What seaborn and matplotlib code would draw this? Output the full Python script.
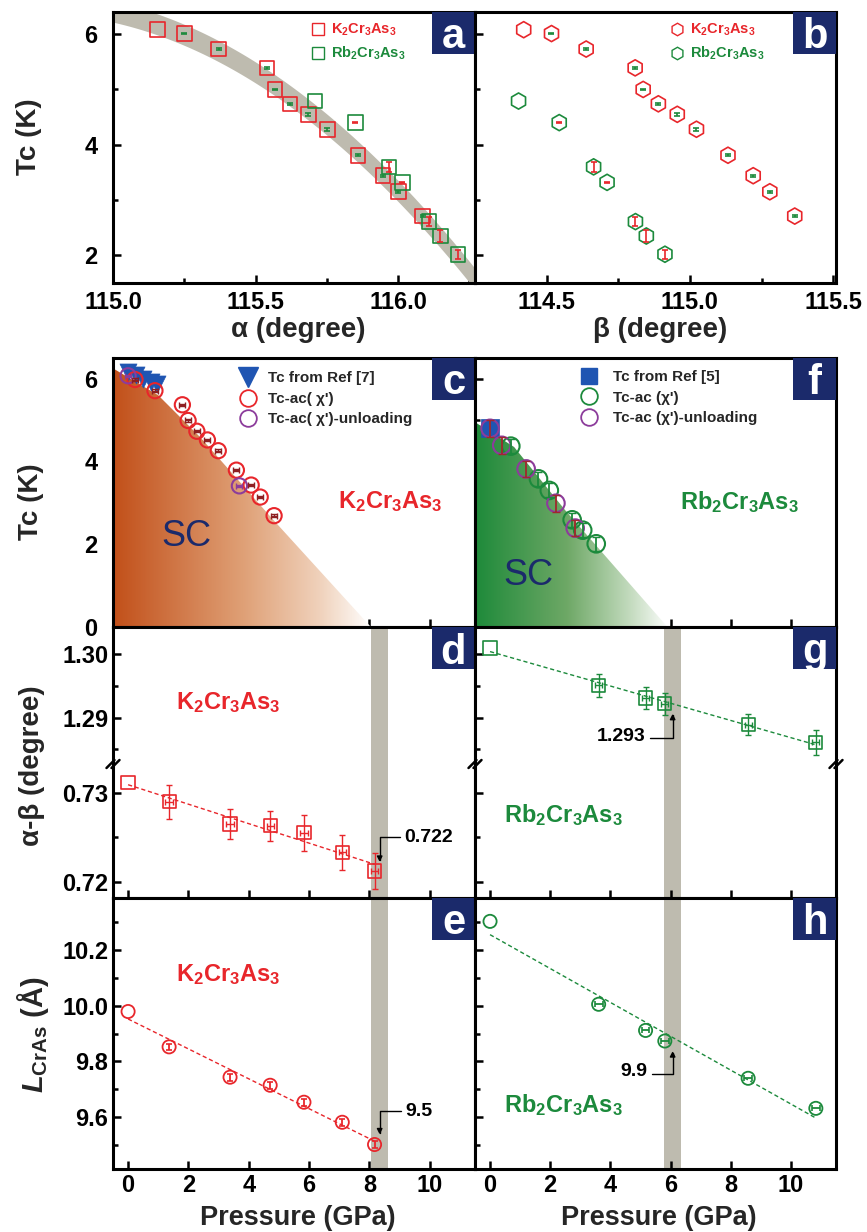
import numpy as np
import matplotlib
matplotlib.use("Agg")
import matplotlib.pyplot as plt
import seaborn as sns
from matplotlib.patches import Polygon, Rectangle
from matplotlib.lines import Line2D
from matplotlib.colors import LinearSegmentedColormap
from matplotlib.ticker import MultipleLocator, FormatStrFormatter

# ---------------- data ----------------
# panels a / b : Tc versus bond angles alpha / beta
k_alpha = [115.156, 115.250, 115.371, 115.540, 115.568, 115.621, 115.685, 115.752, 115.859, 115.947, 116.001, 116.086]
k_beta = [114.420, 114.517, 114.638, 114.809, 114.837, 114.890, 114.956, 115.023, 115.133, 115.221, 115.279, 115.366]
k_tc = [6.08, 6.01, 5.73, 5.39, 5.00, 4.74, 4.55, 4.28, 3.81, 3.44, 3.15, 2.71]
k_tc_err = [0.0, 0.015, 0.015, 0.015, 0.015, 0.015, 0.03, 0.03, 0.015, 0.015, 0.015, 0.015]
rb_alpha = [115.709, 115.850, 115.968, 116.015, 116.109, 116.148, 116.211]
rb_beta = [114.402, 114.544, 114.664, 114.711, 114.810, 114.848, 114.913]
rb_tc = [4.79, 4.40, 3.60, 3.32, 2.61, 2.35, 2.02]
rb_tc_err = [0.0, 0.015, 0.09, 0.015, 0.08, 0.10, 0.08]
band_alpha = [115.085, 115.156, 115.371, 115.50, 115.709, 115.859, 116.045, 116.25]
band_tc = [6.40, 6.16, 5.59, 5.14, 4.62, 3.99, 3.00, 1.60]

# panel c : K2Cr3As3 Tc versus pressure
k_ref7_p = [0.0, 0.25, 0.50, 0.75, 0.95]
k_ref7_tc = [6.15, 6.08, 6.00, 5.93, 5.86]
k_load_p = [0.23, 0.89, 1.80, 1.99, 2.28, 2.63, 2.99, 3.59, 4.08, 4.38, 4.84]
k_load_tc = [5.98, 5.71, 5.37, 4.99, 4.73, 4.52, 4.26, 3.79, 3.43, 3.14, 2.69]
k_unload_p = [0.0, 3.69]
k_unload_tc = [6.07, 3.41]
k_sc_p = [-0.5, 1.0, 2.4, 4.8, 8.05]
k_sc_tc = [6.25, 5.60, 4.58, 2.60, 0.0]

# panel f : Rb2Cr3As3 Tc versus pressure
rb_ref5_p = [0.0]
rb_ref5_tc = [4.80]
rb_load_p = [0.69, 1.61, 1.97, 2.73, 3.08, 3.53]
rb_load_tc = [4.37, 3.58, 3.30, 2.59, 2.34, 2.01]
rb_unload_p = [0.0, 0.39, 1.20, 2.19, 2.83]
rb_unload_tc = [4.80, 4.39, 3.82, 2.99, 2.39]
rb_sc_p = [-0.5, 0.8, 2.5, 5.9]
rb_sc_tc = [4.95, 4.35, 2.82, 0.0]

# panels d, e, g, h : structure versus pressure
k_p = [0.0, 1.36, 3.38, 4.71, 5.83, 7.10, 8.17]
k_ab = [0.7312, 0.7290, 0.7265, 0.7263, 0.7255, 0.7233, 0.7212]
k_ab_err = [0.0, 0.0019, 0.0017, 0.0017, 0.0020, 0.0020, 0.0020]
k_lcras = [9.979, 9.852, 9.743, 9.714, 9.653, 9.581, 9.501]
rb_p = [0.0, 3.61, 5.17, 5.81, 8.58, 10.83]
rb_ab = [1.3010, 1.2951, 1.2931, 1.2922, 1.2889, 1.2861]
rb_ab_err = [0.0, 0.0018, 0.0017, 0.0017, 0.0017, 0.0020]
rb_lcras = [10.303, 10.005, 9.911, 9.873, 9.739, 9.631]
k_band = [8.05, 8.63]
rb_band = [5.77, 6.35]

pressure_ticks = [0, 2, 4, 6, 8, 10]

# ---------------- style ----------------
sns.set_style("ticks")
plt.rcParams.update({
    "font.family": ["Liberation Sans", "DejaVu Sans"],
    "font.weight": "bold",
    "axes.labelweight": "bold",
    "mathtext.fontset": "custom",
    "mathtext.rm": "Liberation Sans:bold",
    "mathtext.it": "Liberation Sans:italic:bold",
    "mathtext.bf": "Liberation Sans:bold",
    "mathtext.default": "rm",
})

RED = "#E8262B"
GREEN = "#1C8A3C"
PURPLE = "#8C3C9B"
BLUE = "#1F55B2"
NAVY = "#1B2A6B"
BANDC = "#BEBBAF"
DKRED = "#8E1F22"

W, H = 867, 1232
fig = plt.figure(figsize=(W / 100, H / 100), dpi=100)


def axes_px(x0, x1, y0, y1):
    return fig.add_axes([x0 / W, 1 - y1 / H, (x1 - x0) / W, (y1 - y0) / H])


ax_a = axes_px(113, 475, 12, 283)
ax_b = axes_px(475, 836, 12, 283)
ax_c = axes_px(113, 475, 358, 627)
ax_f = axes_px(475, 836, 358, 627)
ax_dt = axes_px(113, 475, 627, 764)
ax_db = axes_px(113, 475, 764, 898)
ax_gt = axes_px(475, 836, 627, 764)
ax_gb = axes_px(475, 836, 764, 898)
ax_e = axes_px(113, 475, 898, 1169)
ax_h = axes_px(475, 836, 898, 1169)


def style(ax, labelleft=True, labelbottom=True, ypad=10, xpad=6):
    ax.tick_params(which="both", direction="in", top=False, right=False,
                   width=1.8, labelsize=17, colors="black")
    ax.tick_params(which="major", length=6)
    ax.tick_params(which="minor", length=3.5)
    ax.tick_params(axis="y", pad=ypad, labelleft=labelleft)
    ax.tick_params(axis="x", pad=xpad, labelbottom=labelbottom)
    for s in ax.spines.values():
        s.set_linewidth(2.2)
        s.set_color("black")
        s.set_visible(True)
    ax.set_xlabel("")
    ax.set_ylabel("")


def letter(ax, ch):
    b = ax.get_position()
    wf = 43 / (b.width * W)
    hf = 42 / (b.height * H)
    ax.add_patch(Rectangle((1 - wf, 1 - hf), wf, hf, transform=ax.transAxes,
                           facecolor=NAVY, edgecolor="none", zorder=6, clip_on=False))
    ax.text(1 - wf / 2, 1 - hf / 2, ch, transform=ax.transAxes, ha="center",
            va="center_baseline", color="white", fontsize=30, fontweight="bold", zorder=7)


def open_scatter(ax, x, y, marker, color, s, lw=1.2, z=4):
    sns.scatterplot(x=x, y=y, ax=ax, marker=marker, s=s, facecolor="none",
                    edgecolor=color, linewidth=lw, zorder=z, legend=False)


def sc_region(ax, p, t, stops, xend):
    verts = [(p[0], 0.0)] + list(zip(p, t))
    poly = Polygon(verts, closed=True, facecolor="none", edgecolor="none",
                   transform=ax.transData)
    ax.add_patch(poly)
    cmap = LinearSegmentedColormap.from_list("sc", stops)
    grad = np.linspace(0, 1, 400)[None, :]
    im = ax.imshow(grad, extent=[p[0], xend, 0, 7], cmap=cmap, aspect="auto",
                   origin="lower", zorder=1, interpolation="bilinear")
    im.set_clip_path(poly)


def formula(ax, x, y, txt, color, size=17):
    ax.text(x, y, txt, transform=ax.transAxes, color=color, fontsize=size,
            ha="center", va="center", fontweight="bold", zorder=5)


# ---------------- panel a ----------------
coef = np.polyfit(band_alpha, band_tc, 2)
ag = np.linspace(114.95, 116.35, 300)
bc = np.polyval(coef, ag)
ax_a.fill_between(ag, bc - 0.19, bc + 0.19, color=BANDC, lw=0, zorder=1)
open_scatter(ax_a, k_alpha, k_tc, "s", RED, 110)
open_scatter(ax_a, rb_alpha, rb_tc, "s", GREEN, 110)
ax_a.errorbar(k_alpha[1:], k_tc[1:], yerr=k_tc_err[1:], fmt="none", ecolor=GREEN,
              elinewidth=1.2, capsize=2.5, capthick=1.2, zorder=5)
ax_a.errorbar(rb_alpha[1:], rb_tc[1:], yerr=rb_tc_err[1:], fmt="none", ecolor=RED,
              elinewidth=1.2, capsize=2.5, capthick=1.2, zorder=5)
ax_a.set_xlim(115.0, 116.27)
ax_a.set_ylim(1.5, 6.4)
ax_a.set_xticks([115.0, 115.5, 116.0])
ax_a.xaxis.set_minor_locator(MultipleLocator(0.25))
ax_a.set_yticks([2, 4, 6])
ax_a.yaxis.set_minor_locator(MultipleLocator(1))
ax_a.xaxis.set_major_formatter(FormatStrFormatter("%.1f"))
style(ax_a, ypad=11)
ha_ = [Line2D([], [], marker="s", ls="none", mfc="none", mec=RED, ms=8, mew=1),
       Line2D([], [], marker="s", ls="none", mfc="none", mec=GREEN, ms=8, mew=1)]
leg = ax_a.legend(ha_, ["K$_2$Cr$_3$As$_3$", "Rb$_2$Cr$_3$As$_3$"], loc="upper left",
                  bbox_to_anchor=(0.545, 0.963), frameon=False, fontsize=10.5,
                  handlelength=1.0, handletextpad=0.4, labelspacing=0.45,
                  borderaxespad=0, borderpad=0)
for t, c in zip(leg.get_texts(), [RED, GREEN]):
    t.set_color(c)
letter(ax_a, "a")

# ---------------- panel b ----------------
open_scatter(ax_b, k_beta, k_tc, "h", RED, 135)
open_scatter(ax_b, rb_beta, rb_tc, "h", GREEN, 135)
ax_b.errorbar(k_beta[1:], k_tc[1:], yerr=k_tc_err[1:], fmt="none", ecolor=GREEN,
              elinewidth=1.2, capsize=2.5, capthick=1.2, zorder=5)
ax_b.errorbar(rb_beta[1:], rb_tc[1:], yerr=rb_tc_err[1:], fmt="none", ecolor=RED,
              elinewidth=1.2, capsize=2.5, capthick=1.2, zorder=5)
ax_b.set_xlim(114.25, 115.51)
ax_b.set_ylim(1.5, 6.4)
ax_b.set_xticks([114.5, 115.0, 115.5])
ax_b.xaxis.set_minor_locator(MultipleLocator(0.25))
ax_b.set_yticks([2, 4, 6])
ax_b.yaxis.set_minor_locator(MultipleLocator(1))
ax_b.xaxis.set_major_formatter(FormatStrFormatter("%.1f"))
style(ax_b, labelleft=False)
hb_ = [Line2D([], [], marker="h", ls="none", mfc="none", mec=RED, ms=9, mew=1),
       Line2D([], [], marker="h", ls="none", mfc="none", mec=GREEN, ms=9, mew=1)]
leg = ax_b.legend(hb_, ["K$_2$Cr$_3$As$_3$", "Rb$_2$Cr$_3$As$_3$"], loc="upper left",
                  bbox_to_anchor=(0.54, 0.963), frameon=False, fontsize=10.5,
                  handlelength=1.0, handletextpad=0.4, labelspacing=0.45,
                  borderaxespad=0, borderpad=0)
for t, c in zip(leg.get_texts(), [RED, GREEN]):
    t.set_color(c)
letter(ax_b, "b")

# ---------------- panel c ----------------
sc_region(ax_c, k_sc_p, k_sc_tc,
          [(0.0, "#C2501A"), (0.5, "#DFA076"), (0.8, "#F0D2BC"), (1.0, "#FFFFFF")], 8.1)
sns.scatterplot(x=k_ref7_p, y=k_ref7_tc, ax=ax_c, marker="v", s=150, color=BLUE,
                edgecolor=BLUE, linewidth=0.5, zorder=3, legend=False)
open_scatter(ax_c, k_load_p, k_load_tc, "o", RED, 120, lw=1.5)
ax_c.errorbar(k_load_p, k_load_tc, xerr=0.1, yerr=0.03, fmt="none", ecolor=DKRED,
              elinewidth=1.0, capsize=2, capthick=1.0, zorder=5)
open_scatter(ax_c, k_unload_p, k_unload_tc, "o", PURPLE, 120, lw=1.5)
ax_c.errorbar(k_unload_p, k_unload_tc, xerr=0.1, yerr=0.03, fmt="none", ecolor=PURPLE,
              elinewidth=1.0, capsize=2, capthick=1.0, zorder=5)
ax_c.set_xlim(-0.5, 11.5)
ax_c.set_ylim(0, 6.5)
ax_c.set_xticks(pressure_ticks)
ax_c.set_yticks([0, 2, 4, 6])
ax_c.yaxis.set_minor_locator(MultipleLocator(1))
style(ax_c, labelbottom=False, ypad=11)
hc = [Line2D([], [], marker="v", ls="none", color=BLUE, ms=14),
      Line2D([], [], marker="o", ls="none", mfc="none", mec=RED, ms=12, mew=1.3),
      Line2D([], [], marker="o", ls="none", mfc="none", mec=PURPLE, ms=12, mew=1.3)]
ax_c.legend(hc, ["Tc from Ref [7]", "Tc-ac( χ')", "Tc-ac( χ')-unloading"],
            loc="upper left", bbox_to_anchor=(0.34, 0.95), frameon=False, fontsize=11,
            handlelength=1.5, handletextpad=0.6, labelspacing=0.42,
            borderaxespad=0, borderpad=0)
ax_c.text(0.204, 0.335, "SC", transform=ax_c.transAxes, fontsize=26, fontweight="normal",
          color=NAVY, ha="center", va="center", zorder=5)
formula(ax_c, 0.765, 0.465, "K$_2$Cr$_3$As$_3$", RED)
letter(ax_c, "c")

# ---------------- panel f ----------------
sc_region(ax_f, rb_sc_p, rb_sc_tc,
          [(0.0, "#1E8A3A"), (0.47, "#6EA866"), (0.8, "#C5DCC0"), (1.0, "#FFFFFF")], 6.0)
sns.scatterplot(x=rb_ref5_p, y=rb_ref5_tc, ax=ax_f, marker="s", s=150, color=BLUE,
                edgecolor=BLUE, linewidth=0.5, zorder=3, legend=False)
open_scatter(ax_f, rb_load_p, rb_load_tc, "o", GREEN, 160, lw=1.5)
ax_f.errorbar(rb_load_p, rb_load_tc, yerr=0.17, fmt="none", ecolor=GREEN,
              elinewidth=1.3, capsize=3, capthick=1.0, zorder=5)
open_scatter(ax_f, rb_unload_p, rb_unload_tc, "o", PURPLE, 160, lw=1.5)
ax_f.errorbar(rb_unload_p, rb_unload_tc, yerr=0.2, fmt="none", ecolor="#A0282D",
              elinewidth=1.3, capsize=3, capthick=1.0, zorder=5)
ax_f.set_xlim(-0.5, 11.5)
ax_f.set_ylim(0, 6.5)
ax_f.set_xticks(pressure_ticks)
ax_f.set_yticks([0, 2, 4, 6])
ax_f.yaxis.set_minor_locator(MultipleLocator(1))
style(ax_f, labelleft=False, labelbottom=False)
hf_ = [Line2D([], [], marker="s", ls="none", color=BLUE, ms=11),
       Line2D([], [], marker="o", ls="none", mfc="none", mec=GREEN, ms=12, mew=1.3),
       Line2D([], [], marker="o", ls="none", mfc="none", mec=PURPLE, ms=12, mew=1.3)]
ax_f.legend(hf_, ["Tc from Ref [5]", "Tc-ac (χ')", "Tc-ac (χ')-unloading"],
            loc="upper left", bbox_to_anchor=(0.284, 0.955), frameon=False, fontsize=11,
            handlelength=1.5, handletextpad=0.8, labelspacing=0.42,
            borderaxespad=0, borderpad=0)
ax_f.text(0.147, 0.193, "SC", transform=ax_f.transAxes, fontsize=26, fontweight="normal",
          color=NAVY, ha="center", va="center", zorder=5)
formula(ax_f, 0.734, 0.465, "Rb$_2$Cr$_3$As$_3$", GREEN)
letter(ax_f, "f")

# ---------------- panels d / g (broken axis) ----------------
for ax, band in [(ax_dt, k_band), (ax_db, k_band), (ax_gt, rb_band), (ax_gb, rb_band)]:
    ax.axvspan(band[0], band[1], color=BANDC, lw=0, zorder=0)
    ax.set_xlim(-0.5, 11.5)
    ax.set_xticks(pressure_ticks)

for ax in (ax_dt, ax_gt):
    ax.set_ylim(1.2827, 1.3043)
    ax.set_yticks([1.29, 1.30])
    ax.yaxis.set_minor_locator(MultipleLocator(0.005))
    ax.yaxis.set_major_formatter(FormatStrFormatter("%.2f"))
for ax in (ax_db, ax_gb):
    ax.set_ylim(0.71816, 0.73327)
    ax.set_yticks([0.72, 0.73])
    ax.yaxis.set_minor_locator(MultipleLocator(0.005))
    ax.yaxis.set_major_formatter(FormatStrFormatter("%.2f"))

# K2Cr3As3 alpha-beta (lower part)
sns.regplot(x=k_p, y=k_ab, ax=ax_db, scatter=False, ci=None, color=RED,
            line_kws={"ls": "--", "lw": 1.0, "dashes": (3, 2)})
open_scatter(ax_db, k_p, k_ab, "s", RED, 90, lw=1.2)
ax_db.errorbar(k_p[1:], k_ab[1:], xerr=0.12, yerr=k_ab_err[1:], fmt="none", ecolor=RED,
               elinewidth=1.0, capsize=2.5, capthick=1.0, zorder=5)
# Rb2Cr3As3 alpha-beta (upper part)
sns.regplot(x=rb_p, y=rb_ab, ax=ax_gt, scatter=False, ci=None, color=GREEN,
            line_kws={"ls": "--", "lw": 1.0, "dashes": (3, 2)})
open_scatter(ax_gt, rb_p, rb_ab, "s", GREEN, 90, lw=1.2)
ax_gt.errorbar(rb_p[1:], rb_ab[1:], xerr=0.12, yerr=rb_ab_err[1:], fmt="none", ecolor=GREEN,
               elinewidth=1.0, capsize=2.5, capthick=1.0, zorder=5)

style(ax_dt, labelbottom=False, ypad=3.5)
style(ax_db, labelbottom=False, ypad=3.5)
style(ax_gt, labelleft=False, labelbottom=False)
style(ax_gb, labelleft=False, labelbottom=False)
for ax in (ax_dt, ax_gt):
    ax.spines["bottom"].set_visible(False)
    ax.tick_params(axis="x", which="both", bottom=False)
for ax in (ax_db, ax_gb):
    ax.spines["top"].set_visible(False)

formula(ax_dt, 0.318, 0.445, "K$_2$Cr$_3$As$_3$", RED)
formula(ax_gb, 0.244, 0.62, "Rb$_2$Cr$_3$As$_3$", GREEN)
letter(ax_dt, "d")
letter(ax_gt, "g")

ax_db.annotate("0.722", xy=(8.34, 0.72222), xytext=(9.17, 0.72493), ha="left", va="center",
               fontsize=14, fontweight="bold", color="black", zorder=6,
               arrowprops=dict(arrowstyle="-|>", color="black", lw=1.0, shrinkA=1, shrinkB=0,
                               relpos=(0, 0.55), mutation_scale=8,
                               connectionstyle="angle,angleA=0,angleB=90,rad=0"))
ax_gt.annotate("1.293", xy=(6.07, 1.29063), xytext=(5.17, 1.28702), ha="right", va="center",
               fontsize=14, fontweight="bold", color="black", zorder=6,
               arrowprops=dict(arrowstyle="-|>", color="black", lw=1.0, shrinkA=1, shrinkB=0,
                               relpos=(1, 0.4), mutation_scale=8,
                               connectionstyle="angle,angleA=0,angleB=90,rad=0"))

# ---------------- panels e / h ----------------
for ax, band in [(ax_e, k_band), (ax_h, rb_band)]:
    ax.axvspan(band[0], band[1], color=BANDC, lw=0, zorder=0)
    ax.set_xlim(-0.5, 11.5)
    ax.set_xticks(pressure_ticks)
    ax.set_ylim(9.413, 10.387)
    ax.set_yticks([9.6, 9.8, 10.0, 10.2])
    ax.yaxis.set_minor_locator(MultipleLocator(0.1))
    ax.yaxis.set_major_formatter(FormatStrFormatter("%.1f"))

sns.regplot(x=k_p, y=k_lcras, ax=ax_e, scatter=False, ci=None, color=RED,
            line_kws={"ls": "--", "lw": 1.0, "dashes": (3, 2)})
open_scatter(ax_e, k_p, k_lcras, "o", RED, 90, lw=1.3)
ax_e.errorbar(k_p[1:], k_lcras[1:], yerr=0.012, fmt="none", ecolor=RED,
              elinewidth=1.3, capsize=2.5, capthick=1.2, zorder=5)
sns.regplot(x=rb_p, y=rb_lcras, ax=ax_h, scatter=False, ci=None, color=GREEN,
            line_kws={"ls": "--", "lw": 1.0, "dashes": (3, 2)})
open_scatter(ax_h, rb_p, rb_lcras, "o", GREEN, 90, lw=1.3)
ax_h.errorbar(rb_p[1:], rb_lcras[1:], xerr=0.13, fmt="none", ecolor=GREEN,
              elinewidth=1.3, capsize=2.5, capthick=1.2, zorder=5)

style(ax_e, ypad=3.5, xpad=3.5)
style(ax_h, labelleft=False, xpad=3.5)
formula(ax_e, 0.318, 0.716, "K$_2$Cr$_3$As$_3$", RED)
formula(ax_h, 0.244, 0.236, "Rb$_2$Cr$_3$As$_3$", GREEN)
letter(ax_e, "e")
letter(ax_h, "h")

ax_e.annotate("9.5", xy=(8.34, 9.537), xytext=(9.2, 9.62), ha="left", va="center",
              fontsize=14, fontweight="bold", color="black", zorder=6,
              arrowprops=dict(arrowstyle="-|>", color="black", lw=1.0, shrinkA=1, shrinkB=0,
                              relpos=(0, 0.55), mutation_scale=8,
                              connectionstyle="angle,angleA=0,angleB=90,rad=0"))
ax_h.annotate("9.9", xy=(6.07, 9.837), xytext=(5.23, 9.762), ha="right", va="center",
              fontsize=14, fontweight="bold", color="black", zorder=6,
              arrowprops=dict(arrowstyle="-|>", color="black", lw=1.0, shrinkA=1, shrinkB=0,
                              relpos=(1, 0.4), mutation_scale=8,
                              connectionstyle="angle,angleA=0,angleB=90,rad=0"))

# axis-break marks
for xpx in (113, 475, 836):
    for off in (-2.5, 2.5):
        fig.add_artist(Line2D([(xpx - 4 + off) / W, (xpx + 4 + off) / W],
                              [1 - (764 + 4) / H, 1 - (764 - 4) / H],
                              color="black", lw=1.8, transform=fig.transFigure))

# axis titles
fig.text(29 / W, 1 - 137 / H, "Tc (K)", rotation=90, ha="center", va="center", fontsize=20)
fig.text(31 / W, 1 - 502 / H, "Tc (K)", rotation=90, ha="center", va="center", fontsize=20)
fig.text(32 / W, 1 - 766 / H, "α-β (degree)", rotation=90, ha="center", va="center", fontsize=20)
fig.text(33 / W, 1 - 1035 / H, "$\\mathit{L}_{\\mathrm{CrAs}}$ (Å)", rotation=90,
         ha="center", va="center", fontsize=21)
fig.text(298 / W, 1 - 330 / H, "α (degree)", ha="center", va="center", fontsize=20)
fig.text(660 / W, 1 - 330 / H, "β (degree)", ha="center", va="center", fontsize=20)
fig.text(298 / W, 1 - 1218 / H, "Pressure (GPa)", ha="center", va="center", fontsize=19.5)
fig.text(659 / W, 1 - 1218 / H, "Pressure (GPa)", ha="center", va="center", fontsize=19.5)

fig.savefig("out.png", dpi=100)
